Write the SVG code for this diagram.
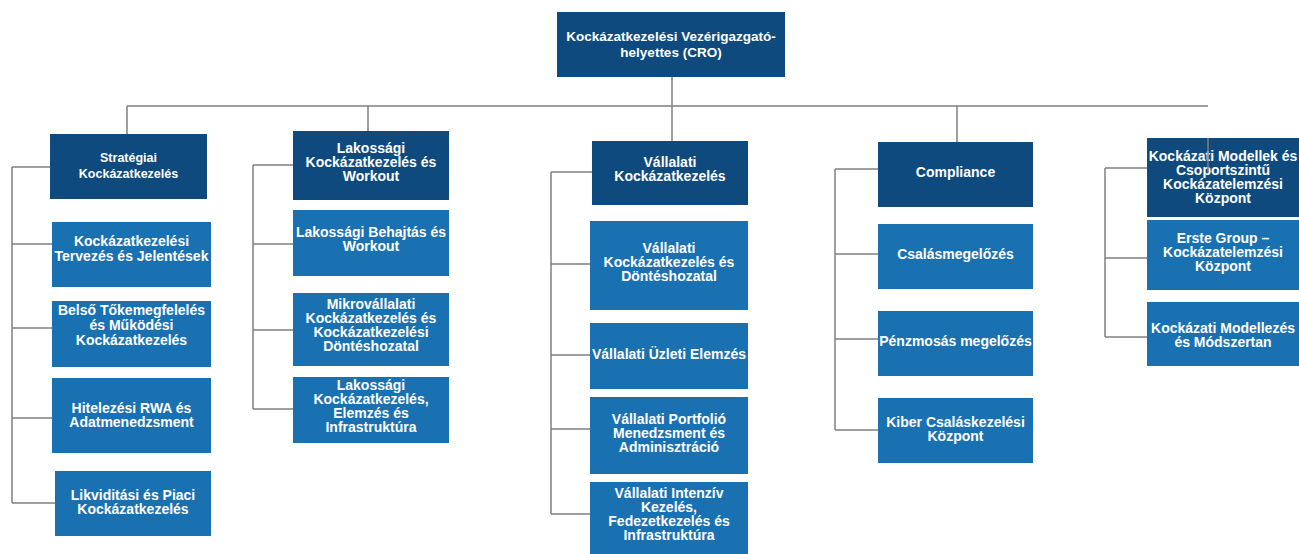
<svg xmlns="http://www.w3.org/2000/svg" width="1299" height="554" viewBox="0 0 1299 554">
<style>
.bg{fill:#ffffff}
.hd{fill:#0e4a7d}
.ch{fill:#1a71b2}
.t{font-family:"Liberation Sans",Arial,sans-serif;font-weight:bold;fill:#ffffff;text-anchor:middle;font-size:14px}
.th{font-size:12.5px}
.tt{font-size:13.5px}
.ln{stroke:#808080;stroke-width:1.5;fill:none}
</style>
<rect class="bg" x="0" y="0" width="1299" height="554"/>
<g id="connectors">
<path class="ln" d="M672 77V141M127 106H1208M127 106V134M368 106V131M957 106V142"/>
<path class="ln" d="M12 167V503M12 167H50M12 244H52M12 328H52M12 418H52M12 503H55"/>
<path class="ln" d="M253 165V409M253 165H293M253 244H293M253 330H293M253 409H293"/>
<path class="ln" d="M551 172V514M551 172H592M551 264H590M551 355H590M551 429H590M551 514H590"/>
<path class="ln" d="M835 169V430M835 169H878M835 254H878M835 339H878M835 430H878"/>
<path class="ln" d="M1105 168V337M1105 168H1147M1105 258H1147M1105 337H1147"/>
</g>
<g id="cro"><rect class="hd" x="557" y="12" width="228" height="65"/><text class="t tt" x="671" y="41">Kockázatkezelési Vezérigazgató-</text><text class="t tt" x="671" y="57">helyettes (CRO)</text></g>

<g id="strat"><rect class="hd" x="50" y="134" width="157" height="65"/><text class="t th" x="128.5" y="162">Stratégiai</text><text class="t th" x="128.5" y="178">Kockázatkezelés</text></g>
<g id="s1"><rect class="ch" x="52" y="222" width="159" height="65"/><text class="t" x="131.5" y="246">Kockázatkezelési</text><text class="t" x="131.5" y="261">Tervezés és Jelentések</text></g>
<g id="s2"><rect class="ch" x="52" y="301" width="159" height="66"/><text class="t" x="131.5" y="315">Belső Tőkemegfelelés</text><text class="t" x="131.5" y="330">és Működési</text><text class="t" x="131.5" y="345">Kockázatkezelés</text></g>
<g id="s3"><rect class="ch" x="52" y="378" width="159" height="75"/><text class="t" x="131.5" y="413">Hitelezési RWA és</text><text class="t" x="131.5" y="427">Adatmenedzsment</text></g>
<g id="s4"><rect class="ch" x="55" y="471" width="156" height="65"/><text class="t" x="133" y="500">Likviditási és Piaci</text><text class="t" x="133" y="514">Kockázatkezelés</text></g>

<g id="lak"><rect class="hd" x="293" y="131" width="156" height="69"/><text class="t" x="371" y="153">Lakossági</text><text class="t" x="371" y="167">Kockázatkezelés és</text><text class="t" x="371" y="181">Workout</text></g>
<g id="l1"><rect class="ch" x="293" y="210" width="156" height="66"/><text class="t" x="371" y="237">Lakossági Behajtás és</text><text class="t" x="371" y="251">Workout</text></g>
<g id="l2"><rect class="ch" x="293" y="293" width="156" height="73"/><text class="t" x="371" y="309">Mikrovállalati</text><text class="t" x="371" y="323">Kockázatkezelés és</text><text class="t" x="371" y="337">Kockázatkezelési</text><text class="t" x="371" y="351">Döntéshozatal</text></g>
<g id="l3"><rect class="ch" x="293" y="377" width="156" height="66"/><text class="t" x="371" y="390">Lakossági</text><text class="t" x="371" y="404">Kockázatkezelés,</text><text class="t" x="371" y="418">Elemzés  és</text><text class="t" x="371" y="432">Infrastruktúra</text></g>

<g id="vall"><rect class="hd" x="592" y="141" width="156" height="64"/><text class="t" x="670" y="167">Vállalati</text><text class="t" x="670" y="181">Kockázatkezelés</text></g>
<g id="v1"><rect class="ch" x="590" y="221" width="158" height="89"/><text class="t" x="669" y="253">Vállalati</text><text class="t" x="669" y="267">Kockázatkezelés és</text><text class="t" x="669" y="281">Döntéshozatal</text></g>
<g id="v2"><rect class="ch" x="590" y="323" width="158" height="66"/><text class="t" x="669" y="359">Vállalati Üzleti Elemzés</text></g>
<g id="v3"><rect class="ch" x="590" y="397" width="158" height="77"/><text class="t" x="669" y="424">Vállalati Portfolió</text><text class="t" x="669" y="438">Menedzsment és</text><text class="t" x="669" y="452">Adminisztráció</text></g>
<g id="v4"><rect class="ch" x="590" y="482" width="158" height="72"/><text class="t" x="669" y="498">Vállalati Intenzív</text><text class="t" x="669" y="512">Kezelés,</text><text class="t" x="669" y="526">Fedezetkezelés és</text><text class="t" x="669" y="540">Infrastruktúra</text></g>

<g id="comp"><rect class="hd" x="878" y="142" width="155" height="65"/><text class="t" x="955.5" y="177">Compliance</text></g>
<g id="c1"><rect class="ch" x="878" y="224" width="155" height="65"/><text class="t" x="955.5" y="259">Csalásmegelőzés</text></g>
<g id="c2"><rect class="ch" x="878" y="311" width="155" height="65"/><text class="t" x="955.5" y="346">Pénzmosás megelőzés</text></g>
<g id="c3"><rect class="ch" x="878" y="398" width="155" height="65"/><text class="t" x="955.5" y="427">Kiber Csaláskezelési</text><text class="t" x="955.5" y="441">Központ</text></g>

<g id="modell"><rect class="hd" x="1147" y="138" width="152" height="79"/><text class="t" x="1223" y="161">Kockázati Modellek és</text><text class="t" x="1223" y="175">Csoportszintű</text><text class="t" x="1223" y="189">Kockázatelemzési</text><text class="t" x="1223" y="203">Központ</text></g>
<g id="m1"><rect class="ch" x="1147" y="220" width="152" height="70"/><text class="t" x="1223" y="243">Erste Group –</text><text class="t" x="1223" y="257">Kockázatelemzési</text><text class="t" x="1223" y="271">Központ</text></g>
<g id="m2"><rect class="ch" x="1147" y="302" width="152" height="64"/><text class="t" x="1223" y="333">Kockázati Modellezés</text><text class="t" x="1223" y="347">és Módszertan</text></g>
<path class="ln" d="M1208 138V172"/>
</svg>
